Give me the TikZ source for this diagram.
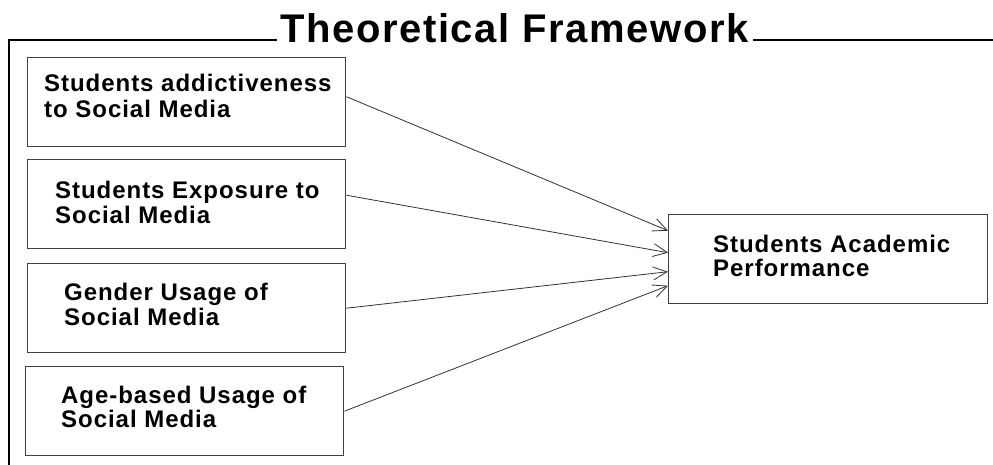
\documentclass[tikz,border=0pt]{standalone}
\usepackage{fontspec}
\setmainfont{Liberation Sans}
\newfontfamily\spacedfont[LetterSpace=4]{Liberation Sans}
\usetikzlibrary{arrows.meta}
\begin{document}
\begin{tikzpicture}[x=1pt,y=-1pt,
  framebox/.style={draw=black!75,line width=1.4pt,minimum width=318pt,minimum height=89pt,inner sep=0pt,anchor=north west},
  lbl/.style={anchor=base west,inner sep=0pt,font=\spacedfont\bfseries\fontsize{24}{28}\selectfont},
  conn/.style={draw=black!80,line width=0.8pt,-{Straight Barb[length=14pt,width=13pt,line width=0.8pt]}},
  frameline/.style={draw=black,line width=1.8pt}]
\useasboundingbox (0,0) rectangle (993,465);
% title and frame
\node[anchor=base west,inner sep=0pt,font=\spacedfont\bfseries\fontsize{40}{46}\selectfont] (title) at (280,43) {Theoretical Framework};
\coordinate (fl) at (9,465);
\coordinate (ftl) at (9,40);
\coordinate (ftm) at (277,40);
\coordinate (ftr) at (753,40);
\coordinate (fe) at (993,40);
\draw[frameline] (fl) -- (ftl) -- (ftm);
\draw[frameline] (ftr) -- (fe);
% boxes
\node[framebox] (b1) at (27,57) {};
\node[framebox] (b2) at (27,159) {};
\node[framebox] (b3) at (27,263) {};
\node[framebox] (b4) at (25,366) {};
\node[framebox,minimum width=319pt] (t) at (668,214) {};
% labels
\node[lbl] (l1a) at (44,92) {Students addictiveness};
\node[lbl] (l1b) at (44,118) {to Social Media};
\node[lbl] (l2a) at (55,199) {Students Exposure to};
\node[lbl] (l2b) at (55,224) {Social Media};
\node[lbl] (l3a) at (64,300) {Gender Usage of};
\node[lbl] (l3b) at (64,325) {Social Media};
\node[lbl] (l4a) at (61,403) {Age-based Usage of};
\node[lbl] (l4b) at (61,427) {Social Media};
\node[lbl] (lta) at (713,252) {Students Academic};
\node[lbl] (ltb) at (713,276) {Performance};
% connectors
\draw[conn] ([yshift=5.5pt]b1.east) -- ([yshift=28.5pt]t.west);
\draw[conn] ([yshift=9pt]b2.east) -- ([yshift=6.5pt]t.west);
\draw[conn] (b3.east) -- ([yshift=-12.5pt]t.west);
\draw[conn] (b4.east) -- ([yshift=-26.5pt]t.west);
\end{tikzpicture}
\end{document}
